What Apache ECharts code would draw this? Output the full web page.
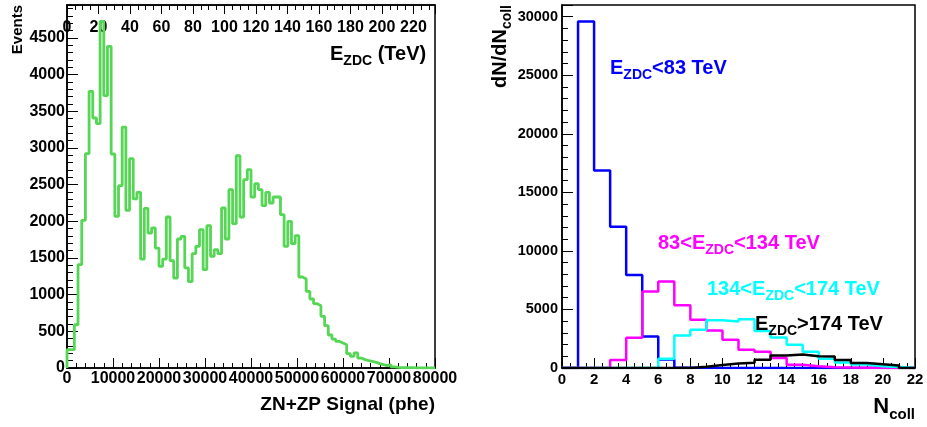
<!DOCTYPE html>
<html><head><meta charset="utf-8">
<script src="https://cdn.jsdelivr.net/npm/echarts@6/dist/echarts.min.js"></script>
<style>html,body{margin:0;padding:0;background:#fff}#c{width:927px;height:427px}</style>
</head><body><div id="c"></div>
<script>
// ---- Left panel: ZN+ZP signal histogram (100 bins of 800 phe, 0..80000) ----
const signalBinWidth = 800;
const signalCounts = [
  250,250,590,1410,2014,2923,3773,3409,3332,4727,
  3714,4386,2918,2068,2486,3286,2150,2855,2305,2395,
  1486,2177,1841,1909,1636,1386,1486,2059,1464,1227,
  1759,1795,1364,1177,1559,1659,1886,1341,1941,1523,
  1614,1559,2182,1759,2432,1968,2895,2059,2568,2705,
  2332,2514,2432,2214,2395,2250,2332,2332,2091,1659,
  2000,1695,1805,1241,1214,1045,941,877,850,705,
  577,450,395,364,340,318,195,159,205,136,
  114,100,90,77,59,45,32,45,14,8,
  6,5,5,4,3,3,2,2,1,1
];
const signalTicks = [0,10000,20000,30000,40000,50000,60000,70000,80000];
const eventTicks = [0,500,1000,1500,2000,2500,3000,3500,4000,4500];
const ezdcTicks = [0,20,40,60,80,100,120,140,160,180,200,220];

// ---- Right panel: Ncoll distributions (bins of width 1, 0..22) ----
const ncollBins = [0,1,2,3,4,5,6,7,8,9,10,11,12,13,14,15,16,17,18,19,20,21];
const ncollLow   = [0,29600,16870,12060,7950,2700,720,20,10,5,5,2,0,0,0,0,0,0,0,0,0,0];
const ncollMid   = [0,0,20,680,2580,6525,7380,5350,4115,3200,2420,1560,1380,850,284,140,70,40,25,15,10,0];
const ncollHigh  = [0,0,0,0,0,30,800,2780,3270,4080,3980,4170,3150,2600,1990,1380,780,480,290,150,80,0];
const ncollTop   = [0,0,0,0,0,0,0,10,100,250,380,450,700,1060,1150,1010,990,680,420,330,220,0];
const ncollTicks = [0,2,4,6,8,10,12,14,16,18,20,22];
const countTicks = [0,5000,10000,15000,20000,25000,30000];

const FONT = '"Liberation Sans", Arial, Helvetica, sans-serif';
const plain = (v) => String(v);

function steps(edges, vals, width) {
  const pts = [[edges[0], 0]];
  for (let i = 0; i < vals.length; i++) pts.push([edges[i], vals[i]]);
  const last = edges[edges.length - 1] + width;
  pts.push([last, vals[vals.length - 1]]);
  pts.push([last, 0]);
  return pts;
}
const signalEdges = signalCounts.map((_, i) => i * signalBinWidth);

const chart = echarts.init(document.getElementById('c'), null, {renderer: 'canvas'});

function axis(o) {
  return Object.assign({
    type: 'value',
    axisLine: {show: true, onZero: false, lineStyle: {color: '#000', width: 1.5}},
    splitLine: {show: false},
    minorSplitLine: {show: false}
  }, o);
}
function ticks(len) { return {show: true, inside: true, length: len, lineStyle: {color: '#000', width: 1}}; }
function minor(n, len) { return {show: true, splitNumber: n, length: len, lineStyle: {color: '#000', width: 1}}; }
function lbl(fs, margin, extra) {
  return Object.assign({color: '#000', fontSize: fs, fontWeight: 'bold', fontFamily: FONT, margin: margin, formatter: plain}, extra || {});
}

const rich = (mfs, sfs, pad) => ({
  m: {fontSize: mfs, fontWeight: 'bold', fontFamily: FONT, verticalAlign: 'top', lineHeight: mfs + 2},
  s: {fontSize: sfs, fontWeight: 'bold', fontFamily: FONT, verticalAlign: 'top', lineHeight: sfs, padding: [pad, 0, 0, 0]}
});

function label(x, y, text, color, mfs, sfs, pad, align) {
  return {type: 'text', x: x, y: y, z: 100,
    style: {text: text, fill: color, rich: rich(mfs, sfs, pad), align: align || 'left', verticalAlign: 'top'}};
}

const option = {
  animation: false,
  backgroundColor: '#fff',
  grid: [
    {left: 67, top: 5, width: 368, height: 363, show: true, borderColor: '#000', borderWidth: 1.5, backgroundColor: 'transparent'},
    {left: 562, top: 5, width: 353, height: 363, show: true, borderColor: '#000', borderWidth: 1.5, backgroundColor: 'transparent'}
  ],
  xAxis: [
    axis({gridIndex: 0, position: 'bottom', min: signalTicks[0], max: signalTicks[signalTicks.length-1],
      interval: signalTicks[1] - signalTicks[0], axisTick: ticks(10), minorTick: minor(5, 5),
      axisLabel: lbl(16, 3, {showMaxLabel: true, showMinLabel: true})}),
    axis({gridIndex: 0, position: 'top', min: 0, max: 233.7,
      interval: ezdcTicks[1] - ezdcTicks[0], axisTick: ticks(9), minorTick: minor(4, 5),
      axisLabel: lbl(16, 15, {inside: true, showMaxLabel: false})}),
    axis({gridIndex: 1, position: 'bottom', min: ncollTicks[0], max: ncollTicks[ncollTicks.length-1],
      interval: ncollTicks[1] - ncollTicks[0], axisTick: ticks(10), minorTick: minor(4, 5),
      axisLabel: lbl(15, 4, {showMaxLabel: true})})
  ],
  yAxis: [
    axis({gridIndex: 0, min: 0, max: 4950, interval: eventTicks[1] - eventTicks[0],
      axisTick: ticks(11), minorTick: minor(5, 6),
      axisLabel: lbl(16, 2, {showMaxLabel: false})}),
    axis({gridIndex: 1, min: 0, max: 31000, interval: countTicks[1] - countTicks[0],
      axisTick: ticks(11), minorTick: minor(5, 6),
      axisLabel: lbl(14.5, 4, {showMaxLabel: false})})
  ],
  series: [
    {type: 'line', xAxisIndex: 0, yAxisIndex: 0, step: 'end', showSymbol: false, silent: true,
      data: steps(signalEdges, signalCounts, signalBinWidth), lineStyle: {color: '#55d655', width: 2.8}},
    {type: 'line', xAxisIndex: 2, yAxisIndex: 1, step: 'end', showSymbol: false, silent: true,
      data: steps(ncollBins, ncollLow, 1), lineStyle: {color: '#0000ff', width: 2.5}},
    {type: 'line', xAxisIndex: 2, yAxisIndex: 1, step: 'end', showSymbol: false, silent: true,
      data: steps(ncollBins, ncollMid, 1), lineStyle: {color: '#ff00ff', width: 2.5}},
    {type: 'line', xAxisIndex: 2, yAxisIndex: 1, step: 'end', showSymbol: false, silent: true,
      data: steps(ncollBins, ncollHigh, 1), lineStyle: {color: '#00ffff', width: 2.5}},
    {type: 'line', xAxisIndex: 2, yAxisIndex: 1, step: 'end', showSymbol: false, silent: true,
      data: steps(ncollBins, ncollTop, 1), lineStyle: {color: '#000000', width: 2.5}}
  ],
  graphic: [
    {type: 'text', x: 18, y: 5, rotation: Math.PI / 2, z: 100,
      style: {text: 'Events', fill: '#000', font: 'bold 15px ' + FONT, align: 'right', verticalAlign: 'middle'}},
    label(330, 44, '{m|E}{s|ZDC}{m| (TeV)}', '#000', 20, 14, 10),
    {type: 'text', x: 435, y: 405, z: 100,
      style: {text: 'ZN+ZP Signal (phe)', fill: '#000', font: 'bold 19px ' + FONT, align: 'right', verticalAlign: 'middle'}},
    {type: 'text', x: 490, y: 5, rotation: Math.PI / 2, z: 100,
      style: {text: '{m|dN/dN}{s|coll}', fill: '#000', rich: rich(20, 14, 10), align: 'right', verticalAlign: 'top'}},
    label(915, 396, '{m|N}{s|coll}', '#000', 22, 15, 11, 'right'),
    label(610, 58, '{m|E}{s|ZDC}{m|<83 TeV}', '#0000ff', 20, 14, 10),
    label(658, 233, '{m|83<E}{s|ZDC}{m|<134 TeV}', '#ff00ff', 20, 14, 10),
    label(707, 279, '{m|134<E}{s|ZDC}{m|<174 TeV}', '#00ffff', 20, 14, 10),
    label(755, 314, '{m|E}{s|ZDC}{m|>174 TeV}', '#000000', 20, 14, 10)
  ]
};
chart.setOption(option);
</script>
</body></html>
